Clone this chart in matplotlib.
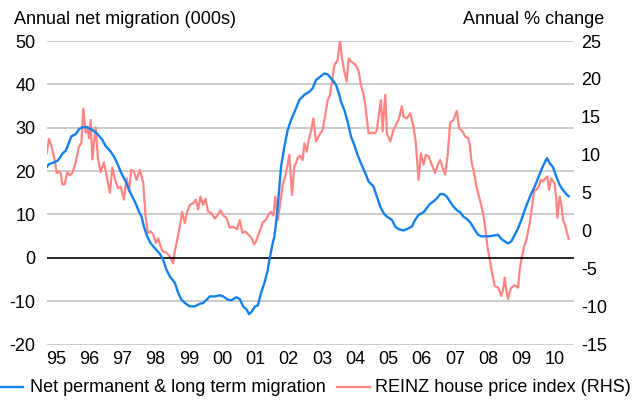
import matplotlib
matplotlib.use("Agg")
import matplotlib.pyplot as plt
from matplotlib.lines import Line2D
from matplotlib.transforms import blended_transform_factory

plt.rcParams['font.family'] = ['Liberation Sans', 'DejaVu Sans']

# Annual net permanent & long term migration (000s), by decimal year
mig_years = [1995.23, 1995.30, 1995.45, 1995.55, 1995.63, 1995.70, 1995.80, 1995.87, 1995.97,
             1996.10, 1996.20, 1996.30, 1996.45, 1996.60, 1996.75, 1996.90, 1997.00, 1997.15,
             1997.25, 1997.35, 1997.45, 1997.60, 1997.75, 1997.90, 1998.00, 1998.08, 1998.15,
             1998.25, 1998.35, 1998.48, 1998.63, 1998.73, 1998.83, 1998.93, 1999.08, 1999.18,
             1999.28, 1999.43, 1999.53, 1999.68, 1999.83, 1999.93, 2000.03, 2000.13, 2000.28,
             2000.43, 2000.53, 2000.68, 2000.78, 2000.93, 2001.03, 2001.13, 2001.24, 2001.31,
             2001.39, 2001.49, 2001.57, 2001.67, 2001.77, 2001.87, 2001.92, 2002.02, 2002.07,
             2002.12, 2002.17, 2002.22, 2002.27, 2002.37, 2002.47, 2002.57, 2002.72, 2002.82,
             2002.97, 2003.12, 2003.22, 2003.32, 2003.47, 2003.57, 2003.67, 2003.77, 2003.92,
             2004.02, 2004.07, 2004.17, 2004.27, 2004.37, 2004.47, 2004.57, 2004.67, 2004.80,
             2004.90, 2005.05, 2005.15, 2005.25, 2005.35, 2005.45, 2005.60, 2005.70, 2005.80,
             2005.95, 2006.10, 2006.20, 2006.30, 2006.40, 2006.55, 2006.65, 2006.75, 2006.85,
             2006.95, 2007.05, 2007.15, 2007.25, 2007.35, 2007.45, 2007.55, 2007.65, 2007.75,
             2007.86, 2007.96, 2008.09, 2008.19, 2008.29, 2008.49, 2008.64, 2008.79, 2008.89,
             2008.99, 2009.09, 2009.19, 2009.29, 2009.39, 2009.49, 2009.59, 2009.69, 2009.79,
             2009.89, 2009.99, 2010.09, 2010.19, 2010.26, 2010.34, 2010.44, 2010.54, 2010.64,
             2010.74, 2010.84, 2010.91]
mig_values = [20.9, 21.6, 22.0, 22.35, 23.1, 24.0, 24.7, 26.0, 28.0,
              28.5, 29.65, 30.1, 30.1, 29.5, 28.6, 27.2, 25.8, 24.5,
              23.35, 21.8, 19.9, 17.6, 14.9, 12.6, 10.7, 9.5, 7.2,
              4.9, 3.4, 2.2, 0.9, -0.5, -2.8, -4.3, -5.8, -8.1,
              -9.7, -10.7, -11.2, -11.2, -10.6, -10.45, -9.7, -8.9, -8.9,
              -8.65, -8.9, -9.7, -9.8, -9.1, -9.5, -11.2, -12.0, -13.0,
              -12.4, -11.2, -11.0, -8.1, -5.8, -2.8, -0.5, 3.4, 4.9,
              8.0, 11.8, 16.4, 21.0, 25.65, 29.5, 31.8, 34.5, 36.4,
              37.6, 38.3, 39.1, 41.0, 41.9, 42.5, 42.3, 41.4, 39.9,
              37.6, 36.0, 34.1, 31.4, 28.0, 26.0, 23.7, 21.8, 19.5,
              17.6, 16.4, 14.1, 11.8, 10.3, 9.5, 8.75, 7.2, 6.6,
              6.3, 6.8, 7.2, 8.75, 9.9, 10.5, 11.5, 12.5, 13.0,
              13.7, 14.7, 14.7, 14.1, 12.9, 11.8, 11.0, 10.5, 9.5,
              8.9, 8.1, 6.45, 5.3, 4.95, 4.95, 5.1, 5.3, 4.3,
              3.8, 3.3, 3.8, 5.3, 6.8, 8.75, 11.0, 13.0, 14.9,
              16.4, 18.35, 20.3, 22.0, 23.0, 21.8, 20.9, 18.7, 16.8,
              15.6, 14.7, 14.2]

# REINZ house price index, annual % change, by decimal year
hpi_years = [1995.23, 1995.30, 1995.40, 1995.47, 1995.53, 1995.60, 1995.65, 1995.70, 1995.77,
             1995.85, 1995.93, 1996.00, 1996.10, 1996.20, 1996.27, 1996.33, 1996.40, 1996.45,
             1996.50, 1996.55, 1996.60, 1996.65, 1996.70, 1996.77, 1996.85, 1996.95, 1997.05,
             1997.13, 1997.20, 1997.30, 1997.37, 1997.45, 1997.55, 1997.63, 1997.70, 1997.77,
             1997.85, 1997.93, 1998.03, 1998.13, 1998.20, 1998.27, 1998.35, 1998.43, 1998.51,
             1998.58, 1998.63, 1998.71, 1998.83, 1998.93, 1999.03, 1999.08, 1999.15, 1999.23,
             1999.30, 1999.38, 1999.45, 1999.53, 1999.63, 1999.71, 1999.78, 1999.85, 1999.93,
             2000.00, 2000.08, 2000.18, 2000.28, 2000.38, 2000.45, 2000.53, 2000.63, 2000.73,
             2000.83, 2000.95, 2001.03, 2001.11, 2001.19, 2001.29, 2001.39, 2001.46, 2001.52,
             2001.59, 2001.64, 2001.72, 2001.82, 2001.90, 2001.97, 2002.04, 2002.10, 2002.17,
             2002.24, 2002.32, 2002.42, 2002.52, 2002.60, 2002.67, 2002.72, 2002.77, 2002.84,
             2002.92, 2002.97, 2003.04, 2003.10, 2003.17, 2003.24, 2003.32, 2003.42, 2003.52,
             2003.60, 2003.67, 2003.74, 2003.80, 2003.87, 2003.97, 2004.04, 2004.10, 2004.17,
             2004.24, 2004.30, 2004.37, 2004.44, 2004.52, 2004.60, 2004.67, 2004.75, 2004.80,
             2004.85, 2004.90, 2005.00, 2005.10, 2005.15, 2005.22, 2005.27, 2005.32, 2005.40,
             2005.45, 2005.55, 2005.65, 2005.75, 2005.80, 2005.85, 2005.90, 2005.95, 2006.05,
             2006.15, 2006.25, 2006.32, 2006.40, 2006.47, 2006.55, 2006.62, 2006.70, 2006.80,
             2006.90, 2006.98, 2007.05, 2007.13, 2007.20, 2007.28, 2007.35, 2007.45, 2007.55,
             2007.62, 2007.72, 2007.80, 2007.89, 2007.94, 2007.99, 2008.07, 2008.14, 2008.24,
             2008.34, 2008.41, 2008.47, 2008.54, 2008.61, 2008.69, 2008.79, 2008.84, 2008.89,
             2008.94, 2008.99, 2009.04, 2009.09, 2009.14, 2009.19, 2009.29, 2009.39, 2009.44,
             2009.49, 2009.57, 2009.64, 2009.74, 2009.81, 2009.87, 2009.94, 2010.01, 2010.07,
             2010.14, 2010.21, 2010.27, 2010.32, 2010.39, 2010.44, 2010.49, 2010.54, 2010.57,
             2010.64, 2010.69, 2010.74, 2010.81, 2010.91]
hpi_values = [10.2, 12.1, 10.7, 9.3, 7.6, 7.8, 7.6, 6.1, 6.1,
              7.7, 7.3, 7.6, 9.0, 11.1, 11.5, 16.1, 12.9, 13.7,
              12.2, 14.6, 9.4, 11.6, 13.6, 9.6, 7.7, 9.0, 6.8,
              5.0, 8.3, 6.5, 5.6, 5.8, 4.1, 6.9, 5.2, 8.0,
              7.8, 6.7, 8.0, 6.3, 1.9, -0.3, -0.1, -0.5, -1.6,
              -1.0, -1.8, -2.7, -2.9, -3.4, -4.3, -2.7, -1.2, 0.6,
              2.5, 1.0, 2.5, 3.4, 3.6, 4.1, 2.8, 4.5, 3.4,
              4.2, 2.5, 2.3, 1.6, 2.1, 2.7, 2.0, 1.7, 0.4,
              0.5, 0.2, 1.4, -0.3, -0.1, -0.5, -1.0, -1.8, -1.4,
              -0.5, 0.0, 1.1, 1.45, 2.2, 2.5, 2.0, 4.5, 1.4,
              3.4, 6.05, 7.6, 10.0, 4.7, 8.5, 8.9, 9.6, 9.9,
              9.3, 11.5, 10.4, 12.0, 13.1, 14.8, 11.75, 12.6, 13.3,
              15.3, 17.2, 17.9, 19.65, 21.8, 22.5, 25.1, 22.7, 21.0,
              19.65, 22.7, 22.3, 22.1, 21.8, 21.0, 19.2, 17.9, 16.6,
              14.6, 12.85, 12.9, 12.85, 13.3, 15.7, 17.2, 13.1, 17.9,
              12.85, 11.75, 13.3, 14.2, 14.6, 15.5, 16.4, 15.0, 14.8,
              15.5, 13.7, 11.5, 6.7, 10.2, 8.7, 10.0, 9.8, 8.7,
              7.6, 8.7, 9.3, 8.25, 7.4, 10.2, 14.2, 14.6, 15.8,
              13.5, 13.1, 12.4, 12.2, 11.3, 9.1, 7.6, 5.8, 4.1,
              2.3, 0.1, -2.1, -3.8, -5.6, -7.3, -7.5, -8.0, -8.6,
              -7.8, -6.2, -8.0, -9.0, -8.0, -7.5, -7.2, -7.5, -5.1,
              -3.8, -2.1, -1.2, 1.0, 3.2, 5.2, 5.4, 5.8, 6.7,
              6.5, 6.9, 7.15, 5.4, 6.9, 6.5, 6.2, 4.1, 1.7,
              4.5, 3.4, 1.45, 0.6, -1.1]

year_labels = ['95', '96', '97', '98', '99', '00', '01', '02', '03',
               '04', '05', '06', '07', '08', '09', '10']
left_ticks = [-20, -10, 0, 10, 20, 30, 40, 50]
right_ticks = [-15, -10, -5, 0, 5, 10, 15, 20, 25]

BLUE = '#1480EC'
RED = '#FF8585'
GRID = '#BEBEBE'
FS = 13

fig = plt.figure(figsize=(6.43, 4.01), dpi=100)
ax = fig.add_axes([46.7 / 643, 56.5 / 401, (574 - 46.7) / 643, (344.5 - 41) / 401])
ax2 = ax.twinx()

# twin axis (house prices) sits underneath so migration is drawn on top
ax.set_zorder(ax2.get_zorder() + 1)
ax.patch.set_visible(False)

ax.set_ylim(-20, 50)
ax2.set_ylim(-15, 25)
ax.set_xlim(1995.23, 2011.07)

# horizontal gridlines at the left-axis ticks, drawn beneath both series
grid_tf = blended_transform_factory(ax2.transAxes, ax.transData)
for v in left_ticks:
    if v == 0:
        continue
    ax2.add_line(Line2D([0, 1], [v, v], transform=grid_tf, color=GRID, lw=1.1, zorder=0))
ax.axhline(0, color='black', lw=1.2, zorder=1)

ax2.plot(hpi_years, hpi_values, color=RED, lw=1.6, solid_joinstyle='round', zorder=2)
ax.plot(mig_years, mig_values, color=BLUE, lw=1.7, solid_joinstyle='round', zorder=3)

for a in (ax, ax2):
    for s in a.spines.values():
        s.set_visible(False)

tick_pos = [1995.5 + i for i in range(len(year_labels))]
ax.set_xticks(tick_pos)
ax.set_xticklabels(year_labels)
ax.set_yticks(left_ticks)
ax.set_yticklabels([str(v) for v in left_ticks])
ax2.set_yticks(right_ticks)
ax2.set_yticklabels([str(v) for v in right_ticks])
ax.tick_params(axis='both', length=0, labelsize=FS, colors='black')
ax.tick_params(axis='x', pad=5)
ax.tick_params(axis='y', pad=8)
ax2.tick_params(axis='y', length=0, labelsize=FS, pad=5)

fig.text(14 / 643, 1 - 20 / 401, 'Annual net migration (000s)', fontsize=FS,
         ha='left', va='center')
fig.text(604 / 643, 1 - 20 / 401, 'Annual % change', fontsize=FS,
         ha='right', va='center')

# legend along the bottom edge
ly = 1 - 387 / 401
fig.add_artist(Line2D([0 / 643, 23 / 643], [ly, ly], transform=fig.transFigure,
                      color=BLUE, lw=1.7))
fig.text(30 / 643, ly, 'Net permanent & long term migration', fontsize=FS,
         ha='left', va='center')
fig.add_artist(Line2D([337 / 643, 370 / 643], [ly, ly], transform=fig.transFigure,
                      color=RED, lw=1.7))
fig.text(375 / 643, ly, 'REINZ house price index (RHS)', fontsize=FS,
         ha='left', va='center')

fig.savefig('out.png', dpi=100)
